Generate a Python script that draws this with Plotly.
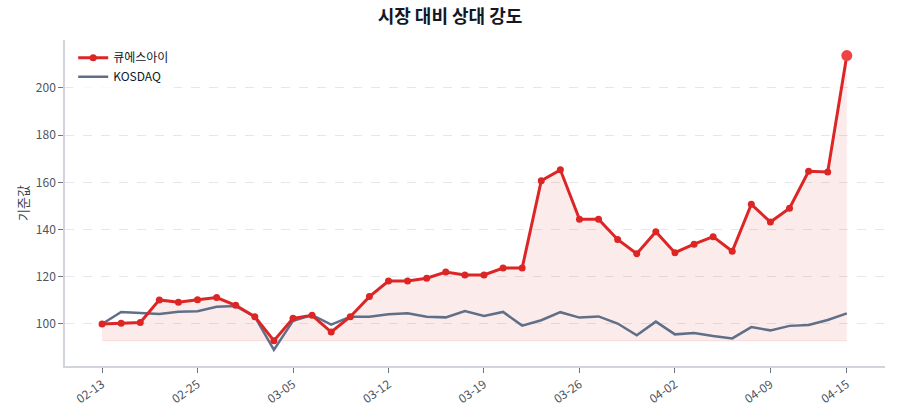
import plotly.graph_objects as go

dates = ["02-13", "02-14", "02-18", "02-20", "02-24", "02-25", "02-26", "02-27", "02-28", "03-04",
         "03-05", "03-06", "03-07", "03-10", "03-11", "03-12", "03-13", "03-14", "03-17", "03-18",
         "03-19", "03-20", "03-21", "03-24", "03-25", "03-26", "03-27", "03-28", "03-31", "04-01",
         "04-02", "04-03", "04-04", "04-07", "04-08", "04-09", "04-10", "04-11", "04-14", "04-15"]

qsi = [100.0, 100.3, 100.6, 110.2, 109.2, 110.3, 111.2, 107.9, 103.1, 92.9,
       102.4, 103.7, 96.6, 103.1, 111.6, 118.2, 118.2, 119.4, 122.0, 120.8,
       120.8, 123.7, 123.7, 160.7, 165.3, 144.4, 144.4, 135.8, 129.8, 139.1,
       130.2, 133.8, 137.0, 130.8, 150.7, 143.2, 149.0, 164.7, 164.4, 213.7]

kosdaq = [100.0, 105.1, 104.6, 104.2, 105.2, 105.4, 107.3, 107.6, 103.1, 89.0,
          101.3, 103.8, 99.7, 103.1, 103.1, 104.1, 104.5, 103.1, 102.8, 105.5,
          103.4, 105.1, 99.3, 101.6, 105.0, 102.7, 103.2, 100.2, 95.2, 101.0,
          95.6, 96.2, 94.9, 93.9, 98.7, 97.3, 99.2, 99.6, 101.7, 104.5]

tick_labels = ["02-13", "02-25", "03-05", "03-12", "03-19", "03-26", "04-02", "04-09", "04-15"]
y_ticks = [100, 120, 140, 160, 180, 200]

RED = "#dc2626"
GRAY = "#5f6f88"
FONT = "Noto Sans CJK KR"

base = min(qsi)
idx = list(range(len(dates)))
tick_idx = [dates.index(t) for t in tick_labels]

fig = go.Figure()
fig.add_trace(go.Scatter(x=idx, y=[base] * len(idx), mode="lines",
                         line=dict(color="rgba(220,38,38,0.12)", width=1),
                         showlegend=False, hoverinfo="skip"))
fig.add_trace(go.Scatter(x=idx, y=qsi, mode="lines", line=dict(width=0),
                         fill="tonexty", fillcolor="rgba(220,38,38,0.09)",
                         showlegend=False, hoverinfo="skip"))
fig.add_trace(go.Scatter(x=idx, y=kosdaq, mode="lines", name="KOSDAQ",
                         line=dict(color=GRAY, width=2.5), legendrank=2))
sizes = [7] * (len(qsi) - 1) + [11]
colors = [RED] * (len(qsi) - 1) + ["#ef4444"]
fig.add_trace(go.Scatter(x=idx, y=qsi, mode="lines+markers", name="큐에스아이",
                         line=dict(color=RED, width=3),
                         marker=dict(size=sizes, color=colors, opacity=1, line=dict(width=0)),
                         legendrank=1))

fig.update_layout(
    width=900, height=420,
    margin=dict(l=65, r=15, t=40, b=54),
    paper_bgcolor="white", plot_bgcolor="white",
    font=dict(family=FONT, color="#374151", size=12),
    title=dict(text="<b>시장 대비 상대 강도</b>", x=0.5, xanchor="center", y=0.975, yanchor="top",
               font=dict(size=18, color="#111827", family=FONT)),
    legend=dict(x=0.01, y=0.99, xanchor="left", yanchor="top", bgcolor="rgba(255,255,255,0.8)",
                font=dict(size=12, color="#111827"), traceorder="normal"),
    showlegend=True,
)
fig.update_xaxes(range=[-1.94, 41.0], tickmode="array", tickvals=tick_idx, ticktext=tick_labels,
                 tickangle=-35, ticks="outside", ticklen=5, tickcolor="#6b7280",
                 showline=True, linecolor="#d1d5db", linewidth=1.5, showgrid=False, zeroline=False,
                 tickfont=dict(size=12, color="#4b5563"))
fig.update_yaxes(range=[82.2, 220.3], tickvals=y_ticks, ticks="outside", ticklen=5, tickcolor="#6b7280",
                 showline=True, linecolor="#d1d5db", linewidth=1.5,
                 showgrid=True, gridcolor="#e5e7eb", griddash="dash", gridwidth=1, zeroline=False,
                 tickfont=dict(size=12, color="#4b5563"),
                 title=dict(text="기준값", font=dict(size=13, color="#374151"), standoff=4))

fig.write_html("out.html")
